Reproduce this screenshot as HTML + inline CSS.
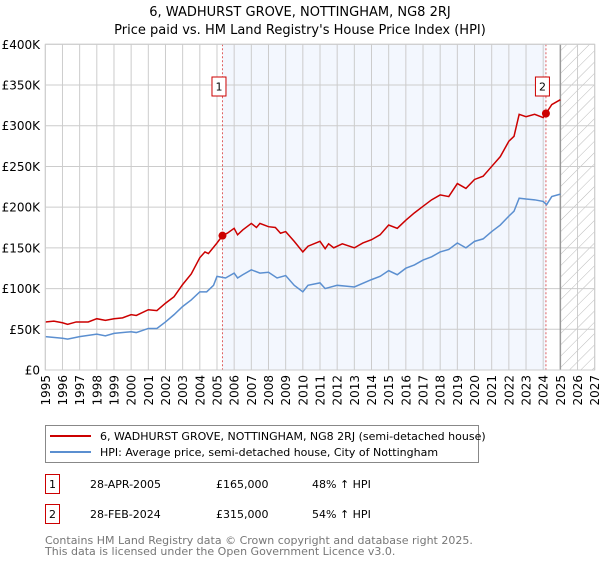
<!DOCTYPE html>
<html><head><meta charset="utf-8"><style>
body{margin:0;background:#fff;font-family:"Liberation Sans","DejaVu Sans",sans-serif;}
svg text{font-family:"DejaVu Sans","Liberation Sans",sans-serif;}
</style></head><body>
<svg id="c" width="600" height="560" xmlns="http://www.w3.org/2000/svg">
<defs><pattern id="hatch" width="8" height="8" patternUnits="userSpaceOnUse" patternTransform="rotate(45)"><line x1="0" y1="0" x2="0" y2="8" stroke="#bbb" stroke-width="1"/></pattern></defs>
<text x="300" y="16" text-anchor="middle" font-size="13">6, WADHURST GROVE, NOTTINGHAM, NG8 2RJ</text>
<text x="300" y="34" text-anchor="middle" font-size="13">Price paid vs. HM Land Registry's House Price Index (HPI)</text>
<g id="plot"></g>
<g>
<rect x="45.5" y="425.5" width="433" height="37" fill="#fff" stroke="#888"/>
<line x1="50" y1="436" x2="91" y2="436" stroke="#cc0000" stroke-width="2"/>
<text x="100" y="440" font-size="11">6, WADHURST GROVE, NOTTINGHAM, NG8 2RJ (semi-detached house)</text>
<line x1="50" y1="452" x2="91" y2="452" stroke="#5b8fd0" stroke-width="2"/>
<text x="100" y="456" font-size="11">HPI: Average price, semi-detached house, City of Nottingham</text>
</g>
<g font-size="11">
<rect x="45.5" y="474.5" width="14" height="19" fill="#fff" stroke="#cc0000"/>
<text x="52.5" y="488" text-anchor="middle">1</text>
<text x="90" y="488">28-APR-2005</text><text x="216" y="488">£165,000</text><text x="312" y="488">48% ↑ HPI</text>
<rect x="45.5" y="504.5" width="14" height="19" fill="#fff" stroke="#cc0000"/>
<text x="52.5" y="518" text-anchor="middle">2</text>
<text x="90" y="518">28-FEB-2024</text><text x="216" y="518">£315,000</text><text x="312" y="518">54% ↑ HPI</text>
</g>
<text x="45" y="544" font-size="11" fill="#777">Contains HM Land Registry data © Crown copyright and database right 2025.</text>
<text x="45" y="555" font-size="11" fill="#777">This data is licensed under the Open Government Licence v3.0.</text>
</svg>
<script>
const yTicks=[0,50,100,150,200,250,300,350,400];
const yTickLabels=["£0","£50K","£100K","£150K","£200K","£250K","£300K","£350K","£400K"];
const years=[1995,1996,1997,1998,1999,2000,2001,2002,2003,2004,2005,2006,2007,2008,2009,2010,2011,2012,2013,2014,2015,2016,2017,2018,2019,2020,2021,2022,2023,2024,2025,2026,2027];
const redT=[1995,1995.5,1996,1996.3,1996.8,1997.5,1998,1998.5,1999,1999.5,2000,2000.3,2001,2001.5,2002,2002.5,2003,2003.5,2004,2004.3,2004.5,2005,2005.32,2005.6,2006,2006.2,2006.5,2007,2007.3,2007.5,2008,2008.4,2008.7,2009,2009.5,2010,2010.3,2011,2011.3,2011.5,2011.8,2012.3,2013,2013.5,2014,2014.5,2015,2015.5,2016,2016.5,2017,2017.5,2018,2018.5,2019,2019.5,2020,2020.5,2021,2021.5,2022,2022.3,2022.6,2023,2023.5,2024,2024.16,2024.5,2025];
const redV=[59,60,58,56,59,59,63,61,63,64,68,67,74,73,82,90,105,118,138,145,143,156,165,168,174,166,172,180,175,180,176,175,168,170,158,145,152,158,149,155,150,155,150,156,160,166,178,174,184,193,201,209,215,213,229,223,234,238,250,262,281,287,314,311,314,310,315,326,332];
const hpiT=[1995,1996,1996.3,1997,1998,1998.5,1999,2000,2000.3,2001,2001.5,2002,2002.5,2003,2003.5,2004,2004.4,2004.8,2005,2005.5,2006,2006.2,2006.5,2007,2007.5,2008,2008.5,2009,2009.5,2010,2010.3,2011,2011.3,2012,2012.5,2013,2014,2014.5,2015,2015.5,2016,2016.5,2017,2017.5,2018,2018.5,2019,2019.5,2020,2020.5,2021,2021.5,2022,2022.3,2022.6,2023,2023.5,2024,2024.2,2024.5,2025];
const hpiV=[41,39,38,41,44,42,45,47,46,51,51,59,68,78,86,96,96,104,115,113,119,113,117,123,119,120,113,116,104,96,104,107,100,104,103,102,111,115,122,117,125,129,135,139,145,148,156,150,158,161,170,178,189,195,211,210,209,207,203,213,216];
const saleT=[2005.32,2024.16];
const saleV=[165,315];
const saleLabels=["1","2"];

const X0=45.3,X1=594.7,Y0=370,Y1=44.3;
const xs=t=>X0+(t-1995)/(2027-1995)*(X1-X0);
const ys=v=>Y0-v/400*(Y0-Y1);
const NS="http://www.w3.org/2000/svg";
const g=document.getElementById('plot');
function mk(tag,attrs,parent){const e=document.createElementNS(NS,tag);for(const k in attrs)e.setAttribute(k,attrs[k]);(parent||g).appendChild(e);return e;}
// shade
let sh=mk('rect',{x:xs(saleT[0]),y:Y1,width:xs(saleT[1])-xs(saleT[0]),height:Y0-Y1,fill:'#eef3fd',opacity:0.7});


let ht=mk('rect',{x:xs(2025),y:Y1,width:X1-xs(2025),height:Y0-Y1,fill:'url(#hatch)'});


years.forEach(y=>{
  let l=mk('line',{x1:xs(y),x2:xs(y),y1:Y1,y2:Y0,stroke:'#ccc','stroke-width':1});
  
  
  let t=mk('text',{x:0,y:0,'font-size':12,'text-anchor':'end',transform:`translate(${xs(y)+4.5},375) rotate(-90)`});
  t.textContent=y;
  
  
});
yTicks.forEach((v,i)=>{
  let l=mk('line',{x1:X0,x2:X1,y1:ys(v),y2:ys(v),stroke:'#ccc','stroke-width':1});
  
  
  let t=mk('text',{x:40,y:ys(v)+4.5,'font-size':12,'text-anchor':'end'});
  t.textContent=yTickLabels[i];
  
  
});
let vl=mk('line',{x1:xs(2025),x2:xs(2025),y1:Y1,y2:Y0,stroke:'#999','stroke-width':1.5});


saleT.forEach((t,i)=>{
  let l=mk('line',{x1:xs(t),x2:xs(t),y1:Y1,y2:Y0,stroke:'#e06060','stroke-width':1,'stroke-dasharray':'2,2'});
  
  
});
let hp=mk('polyline',{points:hpiT.map((t,i)=>xs(t)+','+ys(hpiV[i])).join(' '),fill:'none',stroke:'#5b8fd0','stroke-width':1.5});


let rp=mk('polyline',{points:redT.map((t,i)=>xs(t)+','+ys(redV[i])).join(' '),fill:'none',stroke:'#cc0000','stroke-width':1.5});


saleT.forEach((t,i)=>{
  let c=mk('circle',{cx:xs(t),cy:ys(saleV[i]),r:4,fill:'#cc0000'});
  
  
  let b=mk('rect',{x:xs(t)-10.5,y:77,width:14,height:19,fill:'#fff',stroke:'#cc0000'});
  
  
  let tx=mk('text',{x:xs(t)-3.5,y:90.5,'font-size':11,'text-anchor':'middle'});
  tx.textContent=saleLabels[i];
  
  
});
let fr=mk('rect',{x:X0,y:Y1,width:X1-X0,height:Y0-Y1,fill:'none',stroke:'#ccc'});


</script>
</body></html>
